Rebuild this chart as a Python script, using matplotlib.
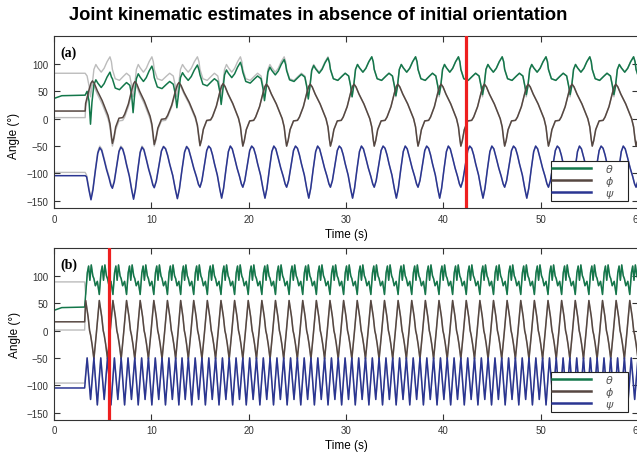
import numpy as np
import matplotlib.pyplot as plt

plt.rcParams['font.family'] = ['Liberation Sans', 'DejaVu Sans']

title = 'Joint kinematic estimates in absence of initial orientation'
x_ticks = [0, 10, 20, 30, 40, 50, 60]
y_ticks = [-150, -100, -50, 0, 50, 100]
labels = [r'$\theta$', r'$\phi$', r'$\psi$']
colors = ['#13774a', '#564741', '#2a3592']
ref_color = '#bcbcbc'

# ---- panel (a): slow gait, estimate converges slowly ----
# rest period before movement (time, estimate, reference)
rest_t_a = [0.0, 0.8, 3.2]
theta_rest_a = [37, 42, 43]
theta_rest_ref_a = [83, 83, 83]
phi_rest_a = [14, 14, 14]
phi_rest_ref_a = [2, 2, 2]
psi_rest_a = [-104, -104, -104]
psi_rest_ref_a = [-98, -98, -98]
move_a = 3.2

# phi troughs (start of each gait cycle), s
cycles_a = [1.55, 6.0, 10.3, 15.0, 19.4, 23.9, 28.4, 32.9, 37.4, 41.8, 46.3,
            50.8, 55.3, 59.8, 64.3]
period_a = 4.45

# one cycle of each angle: seconds after the phi trough, degrees
theta_ph_a = [0.0, 0.3, 0.75, 1.2, 1.5, 1.85, 2.05, 2.2, 2.35, 2.55, 2.75,
              2.95, 3.3, 3.6, 3.9, 4.2, 4.35]
theta_val_a = [90, 73, 70, 78, 83, 78, 60, 40, 58, 90, 99, 93, 85, 92, 104,
               113, 104]
phi_ph_a = [0.0, 0.15, 0.35, 0.7, 1.1, 1.3, 1.7, 2.05, 2.25, 2.4, 2.6, 2.9,
            3.4, 3.85, 4.0, 4.2, 4.35]
phi_val_a = [-50, -40, -20, -4, -3, 3, 22, 47, 59, 63, 58, 45, 27, 7, 0, -15,
             -38]
psi_ph_a = [0.0, 0.2, 0.45, 0.7, 0.9, 1.1, 1.3, 1.5, 1.8, 2.05, 2.25, 2.45,
            2.7, 2.95, 3.15, 3.35, 3.6, 3.85, 4.1, 4.3]
psi_val_a = [-125, -113, -85, -58, -50, -54, -66, -82, -103, -128, -145, -127,
             -92, -60, -50, -55, -72, -90, -105, -119]

# estimate minus reference, per cycle
theta_off_a = [-28, -17, -15, -10, -5, -2, 0, 0, 0, 0, 0, 0, 0, 0]
theta_dip_a = [-10, 11, 20, 26, 33, 36, 40, 42, 44, 44, 44, 44, 44, 44]
phi_off_a = [6, 5, 3, 1, 0, 0, 0, 0, 0, 0, 0, 0, 0, 0]
psi_off_a = [-3, -2, -1, 0, 0, 0, 0, 0, 0, 0, 0, 0, 0, 0]
conv_a = 42.3

# ---- panel (b): fast gait, estimate converges quickly ----
rest_t_b = [0.0, 0.8, 3.15]
theta_rest_b = [37, 42, 43]
theta_rest_ref_b = [89, 89, 89]
phi_rest_b = [16, 16, 16]
phi_rest_ref_b = [1, 1, 1]
psi_rest_b = [-105, -105, -105]
psi_rest_ref_b = [-96, -96, -96]
move_b = 3.15

cycles_b = [2.7, 4.1, 5.5, 6.9, 8.3, 9.7, 11.1, 12.5, 13.8, 15.2, 16.6, 18.0,
            19.4, 20.8, 22.2, 23.6, 25.0, 26.4, 27.8, 29.2, 30.6, 32.0, 33.4,
            34.8, 36.2, 37.6, 39.0, 40.4, 41.8, 43.2, 44.6, 46.0, 47.4, 48.8,
            50.2, 51.6, 53.0, 54.4, 55.8, 57.2, 58.6, 60.0, 61.4]
period_b = 1.39

theta_ph_b = [0.0, 0.15, 0.35, 0.55, 0.72, 0.85, 0.98, 1.12, 1.28]
theta_val_b = [95, 82, 90, 66, 106, 118, 92, 120, 100]
phi_ph_b = [0.0, 0.25, 0.55, 0.8, 0.95, 1.05, 1.2]
phi_val_b = [-52, -5, 55, 25, 0, -8, -25]
psi_ph_b = [0.0, 0.35, 0.7, 1.05]
psi_val_b = [-50, -136, -50, -126]
conv_b = 5.6


def build(cycles, period, ph, val, rest_t, rest_v, move, off=None, dip=None, dip_idx=None):
    ts, vs = list(rest_t), list(rest_v)
    for i in range(len(cycles) - 1):
        t0 = cycles[i]
        k = (cycles[i + 1] - t0) / period
        for j, (p, v) in enumerate(zip(ph, val)):
            t = t0 + p * k
            if t <= move:
                continue
            if dip is not None and j == dip_idx:
                v = dip[i]
            elif off is not None:
                v = v + off[i]
            ts.append(t)
            vs.append(v)
    return np.array(ts), np.array(vs)


fig = plt.figure(figsize=(6.37, 4.56), dpi=100)
fig.suptitle(title, fontsize=13.2, fontweight='bold', x=0.5, y=0.985)

ax_a = fig.add_axes([54 / 637, 1 - 209 / 456, 584 / 637, 172 / 456])
ax_b = fig.add_axes([54 / 637, 1 - 420.7 / 456, 584 / 637, 171.7 / 456])

panels = [
    (ax_a, '(a)', cycles_a, period_a, move_a, conv_a, rest_t_a,
     [(theta_ph_a, theta_val_a, theta_rest_a, theta_rest_ref_a, theta_off_a, theta_dip_a, 7),
      (phi_ph_a, phi_val_a, phi_rest_a, phi_rest_ref_a, phi_off_a, None, None),
      (psi_ph_a, psi_val_a, psi_rest_a, psi_rest_ref_a, psi_off_a, None, None)], 162),
    (ax_b, '(b)', cycles_b, period_b, move_b, conv_b, rest_t_b,
     [(theta_ph_b, theta_val_b, theta_rest_b, theta_rest_ref_b, None, None, None),
      (phi_ph_b, phi_val_b, phi_rest_b, phi_rest_ref_b, None, None, None),
      (psi_ph_b, psi_val_b, psi_rest_b, psi_rest_ref_b, None, None, None)], 373),
]

for ax, tag, cyc, per, move, conv, rest_t, series, leg_top in panels:
    # reference curves first (grey), then estimates
    for ph, val, rest, rest_ref, off, dip, di in series:
        t, v = build(cyc, per, ph, val, rest_t, rest_ref, move)
        ax.plot(t, v, color=ref_color, lw=1.0, zorder=1)
    handles = []
    for (ph, val, rest, rest_ref, off, dip, di), c, lab in zip(series, colors, labels):
        t, v = build(cyc, per, ph, val, rest_t, rest, move, off, dip, di)
        h, = ax.plot(t, v, color=c, lw=1.1, label=lab, zorder=2)
        handles.append(h)
    ax.axvline(conv, color='#ee1f1f', lw=2.3, zorder=3)

    ax.set_xlim(0, 60)
    ax.set_ylim(-163, 151)
    ax.set_xticks(x_ticks)
    ax.set_yticks(y_ticks)
    ax.tick_params(direction='in', top=True, right=True, length=4, width=0.8,
                   labelsize=7, colors='#333333', pad=4)
    for s in ax.spines.values():
        s.set_color('#333333')
        s.set_linewidth(0.8)
    ax.set_xlabel('Time (s)', fontsize=8.5, labelpad=3)
    ax.set_ylabel('Angle (°)', fontsize=8.5, labelpad=4)
    ax.text(0.011, 0.905, tag, transform=ax.transAxes, fontsize=10,
            fontweight='bold', family=['Liberation Serif', 'DejaVu Serif'],
            va='center', ha='left')
    leg = ax.legend(handles=handles, loc='upper left',
                    bbox_to_anchor=(551 / 637, 1 - leg_top / 456 - 0.01, 77 / 637, 0.01),
                    bbox_transform=fig.transFigure, mode='expand',
                    borderaxespad=0, fancybox=False, edgecolor='#222222',
                    fontsize=8, handlelength=3.5, handletextpad=1.3,
                    labelspacing=0.0, borderpad=0.1, framealpha=1)
    leg.get_frame().set_linewidth(0.8)
    for txt in leg.get_texts():
        txt.set_color('#555555')
    for ln in leg.get_lines():
        ln.set_linewidth(1.8)

ax_a.yaxis.set_label_coords(-0.058, 0.424)

fig.savefig('out.png', dpi=100)
